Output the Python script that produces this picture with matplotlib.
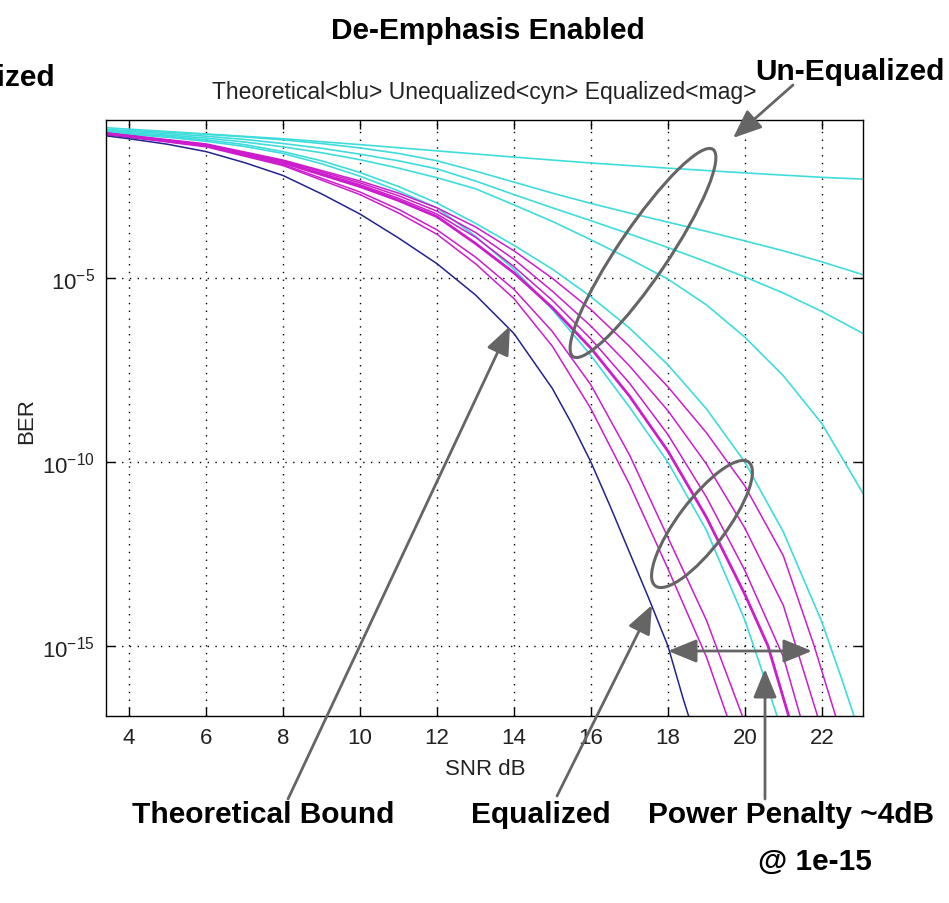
import numpy as np
import matplotlib.pyplot as plt
from matplotlib.patches import Ellipse, FancyArrowPatch
from matplotlib.ticker import NullLocator

# SNR (dB) and log10(BER) read for each curve
theory_snr = [3.4, 4, 5, 6, 7, 8, 9, 10, 11, 12, 13, 14, 15, 15.5, 16, 16.5, 17, 17.5, 18, 18.4, 18.55]
theory_ber = [-1.12, -1.2, -1.35, -1.55, -1.85, -2.2, -2.7, -3.25, -3.9, -4.6, -5.45,
              -6.5, -8.0, -8.95, -10.0, -11.2, -12.45, -13.7, -15.0, -16.45, -16.95]

unequal_1_snr = [3.4, 6, 8, 10, 12, 14, 16, 18, 20, 22, 23.07]
unequal_1 = [-0.9, -1.07, -1.2, -1.36, -1.53, -1.7, -1.86, -2.0, -2.13, -2.25, -2.3]
unequal_snr = [3.4, 5, 6, 7, 8, 9, 10, 11, 12, 13, 14, 15, 16, 17, 18, 19, 20, 21, 22, 23.07]
unequal_2 = [-0.95, -1.02, -1.08, -1.15, -1.23, -1.33, -1.45, -1.6, -1.8, -2.08,
             -2.38, -2.68, -2.96, -3.22, -3.47, -3.72, -3.98, -4.25, -4.55, -4.9]
unequal_3 = [-0.97, -1.06, -1.13, -1.22, -1.33, -1.46, -1.62, -1.8, -2.02, -2.35,
             -2.72, -3.08, -3.43, -3.79, -4.16, -4.55, -4.96, -5.4, -5.9, -6.5]
unequal_4 = [-1.0, -1.1, -1.18, -1.29, -1.42, -1.58, -1.77, -2.0, -2.26, -2.56,
             -3.0, -3.45, -3.95, -4.47, -5.02, -5.72, -6.6, -7.65, -8.95, -10.85]
unequal_5_snr = [3.4, 5, 6, 7, 8, 9, 10, 11, 12, 13, 14, 15, 16, 17, 18, 19, 20, 21, 22, 22.5, 22.85]
unequal_5 = [-1.02, -1.13, -1.23, -1.36, -1.55, -1.8, -2.12, -2.5, -2.95, -3.5, -4.1,
             -4.75, -5.5, -6.35, -7.35, -8.55, -10.0, -11.9, -14.35, -15.85, -16.95]
unequal_6_snr = [3.4, 5, 6, 7, 8, 9, 10, 11, 12, 13, 14, 15, 16, 17, 18, 19, 20, 20.5, 20.85]
unequal_6 = [-1.04, -1.16, -1.27, -1.41, -1.6, -1.88, -2.22, -2.62, -3.08, -3.85,
             -4.75, -5.85, -7.1, -8.5, -10.0, -11.85, -14.3, -15.85, -16.95]

equal_a_snr = [3.4, 6, 8, 10, 11, 12, 13, 14, 15, 16, 17, 18, 19, 19.55]
equal_a = [-1.08, -1.42, -1.93, -2.72, -3.22, -3.8, -4.6, -5.55, -6.85, -8.55, -10.6, -12.9, -15.3, -16.95]
equal_b_snr = [3.4, 6, 8, 10, 11, 12, 13, 14, 15, 16, 17, 18, 19, 19.95]
equal_b = [-1.07, -1.4, -1.9, -2.65, -3.12, -3.68, -4.42, -5.3, -6.45, -7.9, -9.8, -12.05, -14.3, -16.95]
equal_c_snr = [3.4, 6, 8, 10, 11, 12, 13, 14, 15, 16, 17, 18, 19, 20, 20.6, 21.15]
equal_c = [-1.06, -1.38, -1.85, -2.5, -2.88, -3.32, -4.05, -4.85, -5.8, -6.9, -8.2,
           -9.7, -11.5, -13.6, -15.0, -16.95]
equal_d_snr = [3.4, 6, 8, 10, 11, 12, 13, 14, 15, 16, 17, 18, 19, 20, 21, 21.45]
equal_d = [-1.05, -1.37, -1.83, -2.45, -2.82, -3.25, -3.88, -4.68, -5.6, -6.65, -7.85,
           -9.25, -10.95, -12.95, -15.3, -16.95]
equal_e_snr = [3.4, 6, 8, 10, 11, 12, 13, 14, 15, 16, 17, 18, 19, 20, 21, 21.9]
equal_e = [-1.05, -1.36, -1.8, -2.4, -2.75, -3.17, -3.75, -4.48, -5.35, -6.3, -7.38,
           -8.6, -10.05, -11.8, -13.9, -16.95]
equal_f_snr = [3.4, 6, 8, 10, 11, 12, 13, 14, 15, 16, 17, 18, 19, 20, 21, 21.8, 22.37]
equal_f = [-1.04, -1.34, -1.78, -2.35, -2.68, -3.08, -3.6, -4.25, -5.0, -5.85, -6.85,
           -7.95, -9.2, -10.65, -12.55, -15.0, -16.95]

CYAN = "#3fdcdc"
MAGENTA = "#cc1ccc"
BLUE = "#23238f"
GREY = "#656565"

plt.rcParams["font.family"] = ["Liberation Sans", "DejaVu Sans"]

W, H = 949, 904
fig = plt.figure(figsize=(W / 100, H / 100), dpi=100)
ax = fig.add_axes([106 / W, 1 - 717 / H, (863 - 106) / W, (717 - 121) / H])

unequalized = [
    (unequal_1_snr, unequal_1), (unequal_snr, unequal_2), (unequal_snr, unequal_3),
    (unequal_snr, unequal_4), (unequal_5_snr, unequal_5), (unequal_6_snr, unequal_6),
]
equalized = [
    (equal_a_snr, equal_a, 1.1), (equal_b_snr, equal_b, 1.1), (equal_c_snr, equal_c, 2.0),
    (equal_d_snr, equal_d, 1.1), (equal_e_snr, equal_e, 1.1), (equal_f_snr, equal_f, 1.1),
]

for snr, ber in unequalized:
    ax.semilogy(snr, 10.0 ** np.array(ber), color=CYAN, linewidth=1.2)
for snr, ber, lw in equalized:
    ax.semilogy(snr, 10.0 ** np.array(ber), color=MAGENTA, linewidth=lw)
ax.semilogy(theory_snr, 10.0 ** np.array(theory_ber), color=BLUE, linewidth=1.1)

ax.set_xlim(3.4, 23.07)
ax.set_ylim(10 ** -16.91, 10 ** -0.69)
ax.set_xticks(range(4, 23, 2))
ax.set_yticks([1e-15, 1e-10, 1e-5])
ax.yaxis.set_minor_locator(NullLocator())
ax.tick_params(direction="in", top=True, right=True, length=6.5, width=1.0,
               labelsize=16, colors="black", labelcolor="#222222", pad=8)
ax.grid(True, color="black", linestyle=(0, (1, 4.6)), linewidth=1.0)
for sp in ax.spines.values():
    sp.set_linewidth(1.0)

# overlay in pixel coordinates for the slide annotations
ov = fig.add_axes([0, 0, 1, 1])
ov.set_xlim(0, W)
ov.set_ylim(H, 0)
ov.set_axis_off()
ov.patch.set_alpha(0)

ov.text(484, 93, "Theoretical<blu> Unequalized<cyn> Equalized<mag>",
        ha="center", va="center", fontsize=16.5, color="#222222")
ov.text(27, 421, "BER", ha="center", va="center", rotation=90, fontsize=16, color="#222222")
ov.text(485, 770, "SNR dB", ha="center", va="center", fontsize=16, color="#222222")

bold = dict(fontweight="bold", fontsize=21.5, color="black", va="center")
ov.text(488, 31, "De-Emphasis Enabled", ha="center", **bold)
ov.text(55, 78, "Equalized", ha="right", **bold)
ov.text(945, 72, "Un-Equalized", ha="right", **bold)
ov.text(263, 815, "Theoretical Bound", ha="center", **bold)
ov.text(541, 815, "Equalized", ha="center", **bold)
ov.text(791, 815, "Power Penalty ~4dB", ha="center", **bold)
ov.text(815, 862, "@ 1e-15", ha="center", **bold)

ov.add_patch(Ellipse((643, 254), width=250, height=50, angle=-56,
                     fill=False, edgecolor=GREY, linewidth=2.2))
ov.add_patch(Ellipse((702, 525), width=155, height=48, angle=-53,
                     fill=False, edgecolor=GREY, linewidth=2.2))

head = "-|>,head_length=1.1,head_width=0.45"
arrows = [
    ((288, 800), (510, 327), head),
    ((557, 797), (652, 606), head),
    ((793, 86), (733, 139), head),
    ((765, 800), (765, 670), head),
    ((668, 652), (812, 652), "<|-|>,head_length=1.1,head_width=0.45"),
]
for start, end, style in arrows:
    ov.add_patch(FancyArrowPatch(start, end, arrowstyle=style, mutation_scale=16,
                                 color=GREY, linewidth=2.0, shrinkA=0, shrinkB=0))

fig.savefig("out.png", dpi=100)
